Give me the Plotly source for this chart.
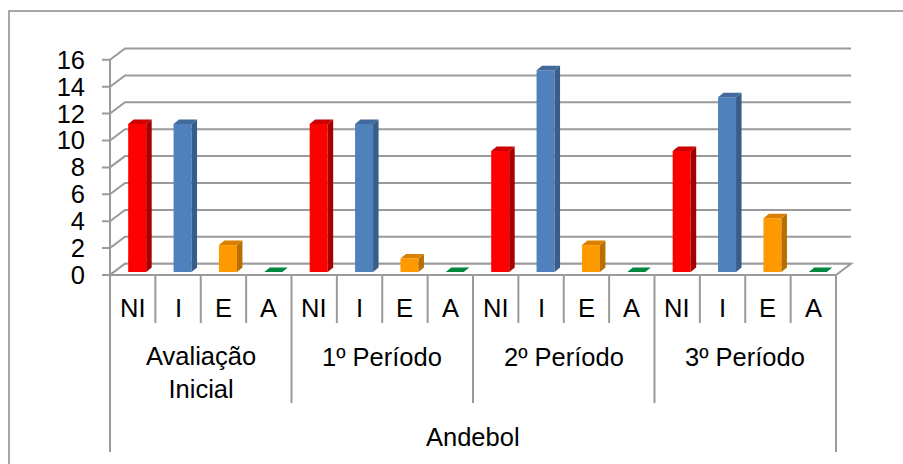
import plotly.graph_objects as go

# ---- data ----
periods = ["Avaliação<br>Inicial", "1º Período", "2º Período", "3º Período"]
levels = ["NI", "I", "E", "A"]
sport = "Andebol"
ni_vals = [11, 11, 9, 9]
i_vals = [11, 11, 15, 13]
e_vals = [2, 1, 2, 4]
a_vals = [0, 0, 0, 0]
y_ticks = [0, 2, 4, 6, 8, 10, 12, 14, 16]

# ---- geometry (px per unit) ----
W, H = 903, 464
ML, MR, MT, MB = 100, 43, 40, 186
PX_X = 45.375          # px per category column
PX_Y = 13.45           # px per value unit
plot_w = W - ML - MR
plot_h = H - MT - MB
x0 = -10 / PX_X
y0 = -3 / PX_Y
x_range = [x0, x0 + plot_w / PX_X]
y_range = [y0, y0 + plot_h / PX_Y]

n_cols = len(periods) * len(levels)
WALL_DX = 15 / PX_X     # depth offset of back wall
WALL_DY = 11.3 / PX_Y
BAR_DX = 4.5 / PX_X     # bar front face depth shift
BAR_BASE = 3 / PX_Y
BAR_W = 18 / PX_X
SIDE_DX = 5.5 / PX_X
SIDE_DY = 4.5 / PX_Y
TICK_LEN = 8 / PX_X

GRID = "#9A9A9A"
FONT = "Liberation Sans, Arial, sans-serif"
FONT_SIZE = 25.5


def paper_y(py):
    return (H - MB - py) / plot_h


def paper_x(px):
    return (px - ML) / plot_w


series = [
    ("NI", ni_vals, "#FF0000", "#A80000", "#CC0000"),
    ("I", i_vals, "#4F81BD", "#385D8A", "#41699C"),
    ("E", e_vals, "#FF9900", "#B86E00", "#D98000"),
    ("A", a_vals, "#00A050", "#006B30", "#00873E"),
]

fig = go.Figure()
shapes = []

# back wall gridlines and left-wall diagonals
for t in y_ticks:
    shapes.append(dict(type="path", xref="x", yref="y", layer="below",
                       path=f"M{-TICK_LEN},{t} L0,{t} L{WALL_DX},{t + WALL_DY} L{n_cols + WALL_DX},{t + WALL_DY}",
                       line=dict(color=GRID, width=2)))
# front value axis
shapes.append(dict(type="line", xref="x", yref="y", layer="below",
                   x0=0, x1=0, y0=0, y1=y_ticks[-1], line=dict(color=GRID, width=2)))
# floor
shapes.append(dict(type="path", xref="x", yref="y", layer="below",
                   path=f"M0,0 L{n_cols},0 L{n_cols + WALL_DX},{WALL_DY} L{WALL_DX},{WALL_DY} Z",
                   fillcolor="white", line=dict(color=GRID, width=2)))

# bars: front faces as bar traces, side/top faces as polygons
for k, (name, vals, front, side, top) in enumerate(series):
    xs = [g * len(levels) + k + 0.5 + BAR_DX for g in range(len(vals))]
    fig.add_trace(go.Bar(x=xs, y=vals, base=BAR_BASE, width=BAR_W, name=name,
                         marker=dict(color=front, line=dict(width=0)),
                         showlegend=False, hoverinfo="skip"))
    for xc, v in zip(xs, vals):
        xl, xr = xc - BAR_W / 2, xc + BAR_W / 2
        b, tp = BAR_BASE, BAR_BASE + v
        if v > 0:
            fig.add_trace(go.Scatter(
                x=[xr, xr + SIDE_DX, xr + SIDE_DX, xr, xr],
                y=[b, b + SIDE_DY, tp + SIDE_DY, tp, b],
                fill="toself", fillcolor=side, mode="lines", line=dict(width=0, color=side),
                showlegend=False, hoverinfo="skip"))
        fig.add_trace(go.Scatter(
            x=[xl, xr, xr + SIDE_DX, xl + SIDE_DX, xl],
            y=[tp, tp, tp + SIDE_DY, tp + SIDE_DY, tp],
            fill="toself", fillcolor=top, mode="lines", line=dict(width=0, color=top),
            showlegend=False, hoverinfo="skip"))

# multi-level category axis
annotations = []
for c in range(n_cols + 1):
    if c in (0, n_cols):
        bottom = 452
    elif c % len(levels) == 0:
        bottom = 403
    else:
        bottom = 323
    shapes.append(dict(type="line", xref="x", yref="paper", x0=c, x1=c,
                       y0=paper_y(275), y1=paper_y(bottom), line=dict(color=GRID, width=2)))
for c in range(n_cols):
    annotations.append(dict(x=c + 0.5, y=paper_y(308), xref="x", yref="paper",
                            text=levels[c % len(levels)], showarrow=False,
                            xanchor="center", yanchor="middle"))
for g, p in enumerate(periods):
    yc = 372 if "<br>" in p else 357
    annotations.append(dict(x=g * len(levels) + len(levels) / 2, y=paper_y(yc),
                            xref="x", yref="paper", text=p, showarrow=False,
                            xanchor="center", yanchor="middle"))
annotations.append(dict(x=n_cols / 2, y=paper_y(437), xref="x", yref="paper",
                        text=sport, showarrow=False, xanchor="center", yanchor="middle"))

# chart area border
shapes.append(dict(type="rect", xref="paper", yref="paper",
                   x0=paper_x(9), x1=paper_x(W + 10), y0=paper_y(11), y1=paper_y(H + 10),
                   line=dict(color="#8A8A8A", width=1.5)))

fig.update_layout(
    width=W, height=H,
    margin=dict(l=ML, r=MR, t=MT, b=MB, pad=0),
    paper_bgcolor="white", plot_bgcolor="white",
    barmode="overlay",
    font=dict(family=FONT, size=FONT_SIZE, color="black"),
    shapes=shapes, annotations=annotations,
    xaxis=dict(range=x_range, showgrid=False, zeroline=False, showline=False,
               showticklabels=False, ticks="", fixedrange=True),
    yaxis=dict(range=y_range, showgrid=False, zeroline=False, showline=False,
               tickvals=y_ticks, ticktext=[str(t) for t in y_ticks], ticks="",
               ticklabelstandoff=14, tickfont=dict(size=FONT_SIZE), fixedrange=True),
)

fig.write_html("out.html")
